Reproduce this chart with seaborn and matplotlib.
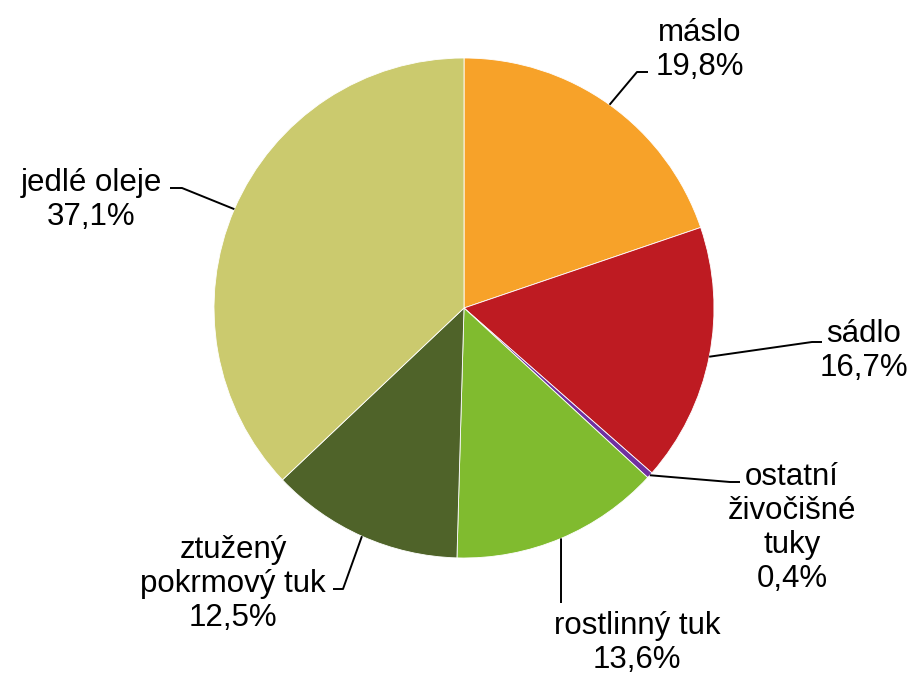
import numpy as np
import seaborn as sns
import matplotlib.pyplot as plt

#####################################
# Data
#####################################

labels = ["máslo", "sádlo", "ostatní\nživočišné\ntuky", "rostlinný tuk",
          "ztužený\npokrmový tuk", "jedlé oleje"]
shares = [19.8, 16.7, 0.4, 13.6, 12.5, 37.1]
colors = ["#F7A229", "#BE1B22", "#7030A0", "#80BB2F", "#4F6329", "#CBCA6E"]

#####################################
# Layout (pixel coordinates, y measured from the top)
#####################################

W, H = 912, 677
CENTER = (464, 308)
RADIUS = 250

# bend point, end point of leader, text centre
label_layout = [
    ((637, 72), (648, 72), (700, 50)),
    ((812, 342), (822, 342), (864, 351)),
    ((730, 482), (740, 482), (792, 528)),
    ((561, 603), (561, 603), (637, 643)),
    ((343, 589), (333, 589), (233, 584)),
    ((182, 188), (170, 188), (91, 200)),
]


def py(y):
    return H - y


def main():
    sns.set_theme(style="white")
    plt.rcParams["font.family"] = ["Liberation Sans", "DejaVu Sans"]

    fig = plt.figure(figsize=(W / 100, H / 100), dpi=100)
    ax = fig.add_axes([0, 0, 1, 1])

    wedges, _ = ax.pie(
        shares, colors=colors, startangle=90, counterclock=False,
        center=(CENTER[0], py(CENTER[1])), radius=RADIUS,
        wedgeprops=dict(edgecolor="white", linewidth=0.6),
    )
    ax.set_xlim(0, W)
    ax.set_ylim(0, H)
    ax.set_aspect("equal")
    ax.axis("off")

    for w, lab, val, (bend, end, txt) in zip(wedges, labels, shares, label_layout):
        mid = np.deg2rad((w.theta1 + w.theta2) / 2)
        ex = CENTER[0] + RADIUS * np.cos(mid)
        ey = py(CENTER[1]) + RADIUS * np.sin(mid)
        ax.plot([ex, bend[0], end[0]], [ey, py(bend[1]), py(end[1])],
                color="black", lw=1.4, solid_capstyle="butt")
        text = f"{lab}\n{val:.1f}%".replace(".", ",")
        ax.text(txt[0], py(txt[1]), text, ha="center", va="center",
                fontsize=22.5, linespacing=1.17, color="black")

    fig.savefig("out.png", dpi=100, facecolor="white")


if __name__ == "__main__":
    main()
